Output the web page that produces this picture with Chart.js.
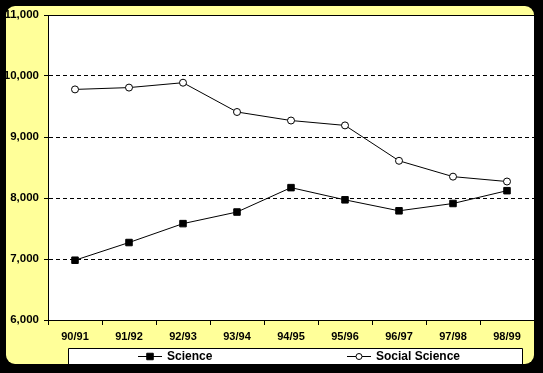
<!DOCTYPE html>
<html>
<head>
<meta charset="utf-8">
<script src="https://cdn.jsdelivr.net/npm/chart.js@4"></script>
<style>
  html, body { margin: 0; padding: 0; background: #000; }
  #chart { display: block; }
</style>
</head>
<body>
<canvas id="chart" width="543" height="373"></canvas>
<script>
// Data
const years = ['90/91', '91/92', '92/93', '93/94', '94/95', '95/96', '96/97', '97/98', '98/99'];
const science = [6980, 7270, 7580, 7770, 8170, 7970, 7790, 7910, 8120];
const socialScience = [9780, 9810, 9890, 9410, 9270, 9190, 8610, 8350, 8270];
const yMin = 6000;
const yMax = 11000;
const yStep = 1000;

const fontFamily = 'Arial, "Liberation Sans", sans-serif';

// Yellow rounded frame, white plot area, top border and the boxed legend
const framePlugin = {
    id: 'frame',
    beforeDraw(chart) {
        const ctx = chart.ctx;
        const area = chart.chartArea;
        ctx.save();
        ctx.fillStyle = '#000';
        ctx.fillRect(0, 0, chart.width, chart.height);
        ctx.fillStyle = '#ffff99';
        ctx.beginPath();
        ctx.roundRect(6, 6, 528, 358, 9);
        ctx.fill();
        ctx.fillStyle = '#fff';
        ctx.fillRect(area.left, area.top, area.right - area.left, area.bottom - area.top);
        ctx.restore();
    },
    afterDraw(chart) {
        const ctx = chart.ctx;
        const area = chart.chartArea;
        ctx.save();
        // solid top line of the plot area
        ctx.strokeStyle = '#000';
        ctx.lineWidth = 1;
        ctx.beginPath();
        ctx.moveTo(area.left, area.top + 0.5);
        ctx.lineTo(area.right, area.top + 0.5);
        ctx.stroke();

        // legend box (bottom edge hidden by the frame shadow)
        ctx.fillStyle = '#fff';
        ctx.fillRect(68, 348, 455, 16);
        ctx.beginPath();
        ctx.moveTo(68.5, 364);
        ctx.lineTo(68.5, 348.5);
        ctx.lineTo(522.5, 348.5);
        ctx.lineTo(522.5, 364);
        ctx.stroke();

        const itemX = [138, 347];
        const midY = 356.5;
        chart.data.datasets.forEach((ds, i) => {
            const x = itemX[i];
            ctx.strokeStyle = '#000';
            ctx.lineWidth = 1;
            ctx.beginPath();
            ctx.moveTo(x, midY);
            ctx.lineTo(x + 24, midY);
            ctx.stroke();
            ctx.fillStyle = ds.pointBackgroundColor;
            ctx.strokeStyle = ds.pointBorderColor;
            ctx.beginPath();
            if (ds.pointStyle === 'rect') {
                const s = ds.pointRadius * Math.SQRT1_2;
                ctx.rect(x + 12 - s, midY - s, 2 * s, 2 * s);
            } else {
                ctx.arc(x + 12, midY, 3, 0, Math.PI * 2);
            }
            ctx.fill();
            ctx.stroke();
            ctx.fillStyle = '#000';
            ctx.font = 'bold 12px ' + fontFamily;
            ctx.textBaseline = 'middle';
            ctx.textAlign = 'left';
            ctx.fillText(ds.label, x + 29, midY);
        });
        ctx.restore();
    }
};

const ctx = document.getElementById('chart').getContext('2d');
new Chart(ctx, {
    type: 'line',
    data: {
        labels: years,
        datasets: [{
            label: 'Science',
            data: science,
            borderColor: '#000',
            borderWidth: 1,
            pointStyle: 'rect',
            pointRadius: 4.6,
            pointBackgroundColor: '#000',
            pointBorderColor: '#000',
            pointBorderWidth: 1,
            tension: 0
        }, {
            label: 'Social Science',
            data: socialScience,
            borderColor: '#000',
            borderWidth: 1,
            pointStyle: 'circle',
            pointRadius: 3.5,
            pointBackgroundColor: '#fff',
            pointBorderColor: '#000',
            pointBorderWidth: 1,
            tension: 0
        }]
    },
    options: {
        responsive: false,
        animation: false,
        devicePixelRatio: 1,
        layout: { padding: { left: 0, top: 15, right: 9, bottom: 0 } },
        plugins: {
            legend: { display: false },
            tooltip: { enabled: false }
        },
        scales: {
            x: {
                offset: true,
                grid: {
                    offset: true,
                    drawOnChartArea: false,
                    tickLength: 5,
                    color: '#000'
                },
                border: { color: '#000', width: 1 },
                ticks: {
                    color: '#000',
                    padding: 5,
                    maxRotation: 0,
                    font: { family: fontFamily, size: 11, weight: 'bold' }
                },
                afterFit(scale) { scale.height = 53; }
            },
            y: {
                min: yMin,
                max: yMax,
                grid: {
                    tickLength: 4,
                    color: (c) => (c.tick && (c.tick.value === yMin || c.tick.value === yMax)) ? 'rgba(0,0,0,0)' : '#000',
                    tickColor: '#000'
                },
                border: { color: '#000', width: 1, dash: [4, 3] },
                ticks: {
                    stepSize: yStep,
                    color: '#000',
                    padding: 5,
                    font: { family: fontFamily, size: 11.5, weight: 'bold' },
                    callback: (v) => v.toLocaleString('en-US')
                },
                afterFit(scale) { scale.width = 48; }
            }
        }
    },
    plugins: [framePlugin]
});
</script>
</body>
</html>
